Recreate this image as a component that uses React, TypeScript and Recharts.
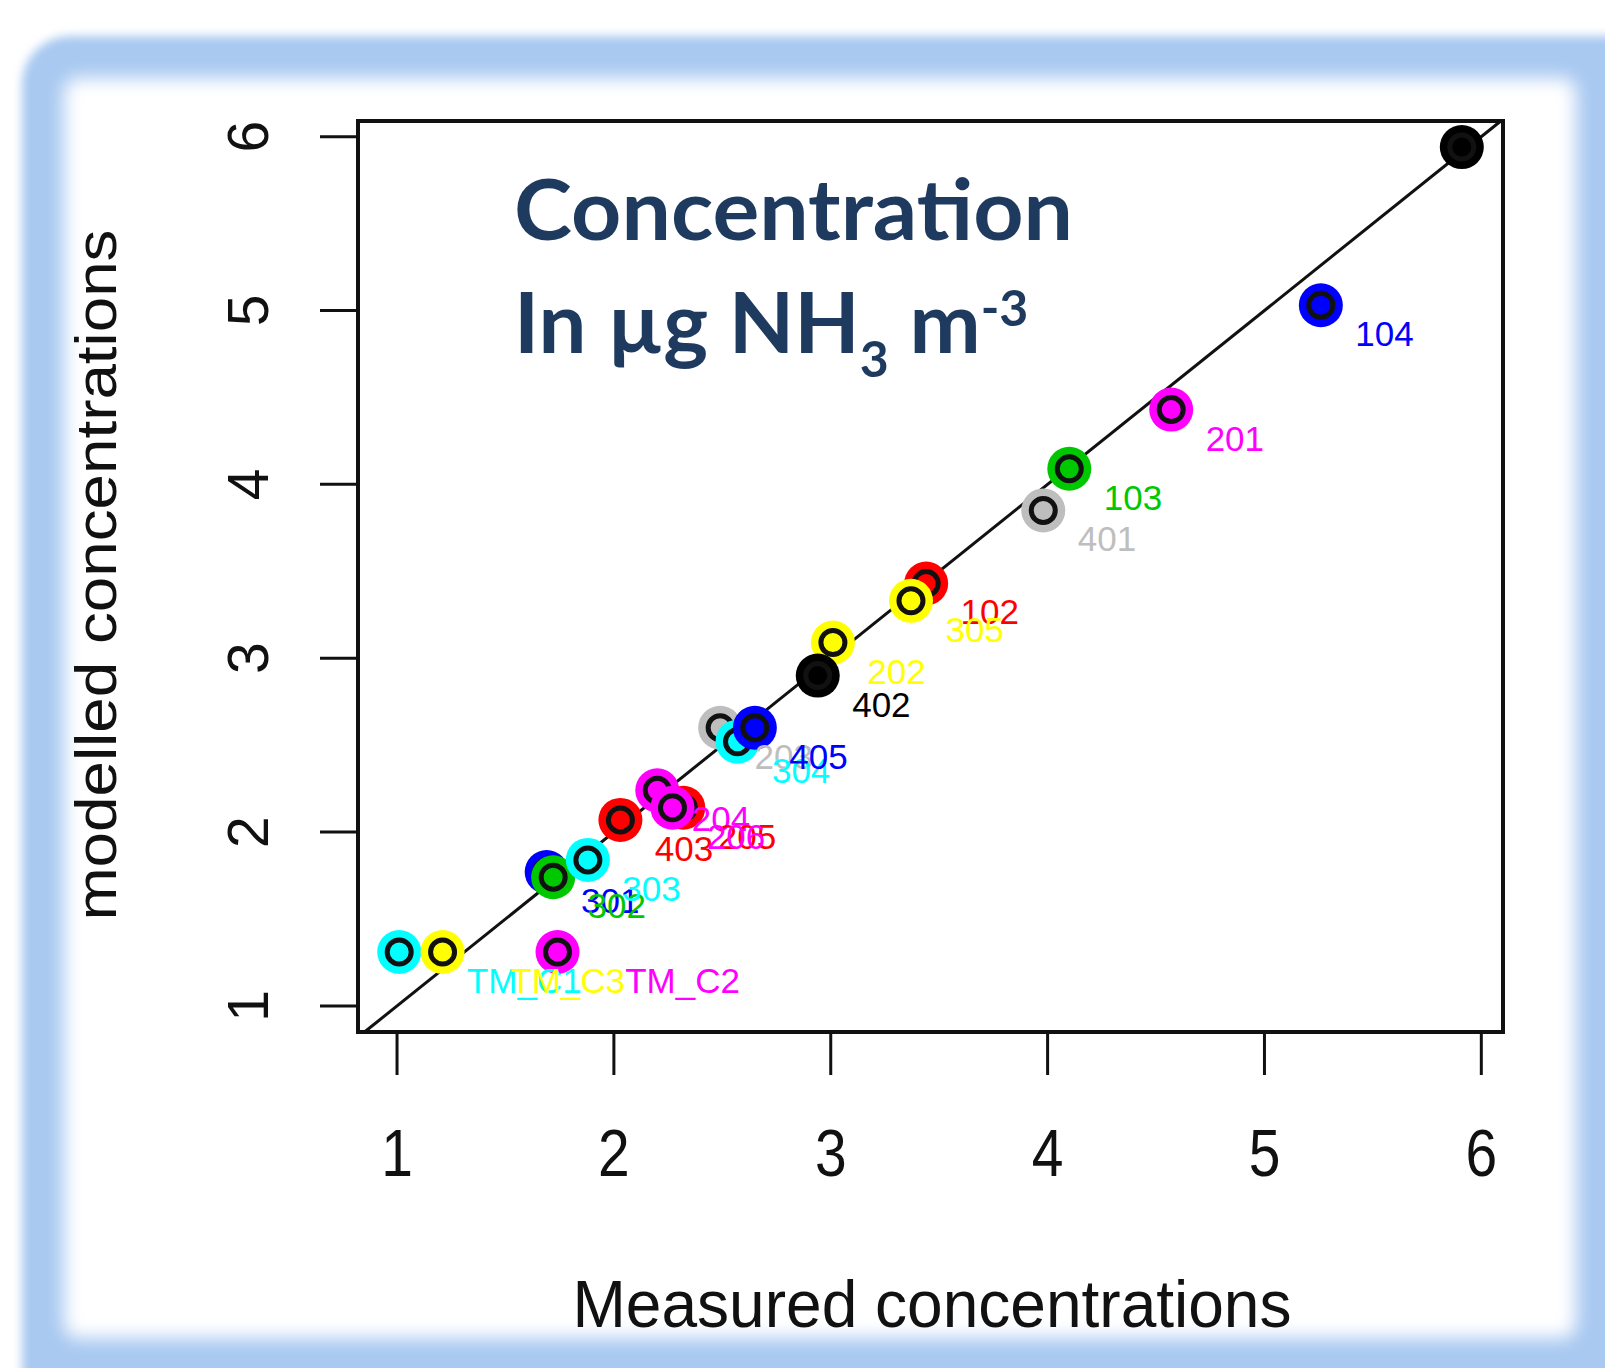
import React from 'react';
import { ScatterChart, Scatter, XAxis, YAxis, ReferenceLine, ReferenceArea } from 'recharts';

// sites, in drawing order (later ones sit on top)
const siteLabels = [
  'TM_C1', 'TM_C3', 'TM_C2', '301', '302', '303', '403', '204', '205', '206',
  '203', '304', '405', '202', '402', '102', '305', '401', '103', '201', '104', '',
];
const measured = [
  1.01, 1.21, 1.74, 1.69, 1.72, 1.88, 2.03, 2.2, 2.32, 2.27,
  2.49, 2.57, 2.65, 3.01, 2.94, 3.44, 3.37, 3.98, 4.1, 4.57, 5.26, 5.91,
];
const modelled = [
  1.31, 1.31, 1.31, 1.77, 1.74, 1.84, 2.07, 2.24, 2.14, 2.14,
  2.6, 2.52, 2.6, 3.09, 2.9, 3.43, 3.33, 3.85, 4.09, 4.43, 5.03, 5.94,
];
const siteColours = [
  '#00ffff', '#ffff00', '#ff00ff', '#0000ff', '#00c800', '#00ffff', '#ff0000', '#ff00ff', '#ff0000', '#ff00ff',
  '#bebebe', '#00ffff', '#0000ff', '#ffff00', '#000000', '#ff0000', '#ffff00', '#bebebe', '#00c800', '#ff00ff', '#0000ff', '#000000',
];
const axisTicks = [1, 2, 3, 4, 5, 6];

const points = siteLabels.map((label, i) => ({
  x: measured[i],
  y: modelled[i],
  label,
  colour: siteColours[i],
}));

const AXIS_FONT = '"Liberation Sans", Arial, sans-serif';
const LABEL_SIZE = 35;

const charWidth: Record<string, number> = { M: 0.833, T: 0.611, C: 0.722, _: 0.556 };
const textWidth = (s: string) =>
  s.split('').reduce((w, c) => w + (charWidth[c] ?? 0.556), 0) * LABEL_SIZE;

const Marker = (p: any) => (
  <g>
    <circle cx={p.cx} cy={p.cy} r={22} fill={p.payload.colour} />
    <circle cx={p.cx} cy={p.cy} r={12} fill="none" stroke="#111" strokeWidth={5} />
  </g>
);

const SiteLabel = (p: any) => {
  const label: string = p.payload.label;
  if (!label) return <g />;
  return (
    <text
      x={p.cx + 0.59 * textWidth(label)}
      y={p.cy + 41}
      fill={p.payload.colour}
      fontSize={LABEL_SIZE}
      fontFamily={AXIS_FONT}
    >
      {label}
    </text>
  );
};

const XTick = (p: any) => (
  <g transform={`translate(${p.x},${p.y + 101}) scale(0.85,1)`}>
    <text textAnchor="middle" fontSize={67} fontFamily={AXIS_FONT} fill="#111">
      {p.payload.value}
    </text>
  </g>
);

const YTick = (p: any) => (
  <text
    transform={`translate(${p.x - 52},${p.y}) rotate(-90)`}
    textAnchor="middle"
    fontSize={57}
    fontFamily={AXIS_FONT}
    fill="#111"
  >
    {p.payload.value}
  </text>
);

export default function App() {
  return (
    <div
      style={{
        position: 'absolute',
        left: 0,
        top: 0,
        width: 1605,
        height: 1368,
        overflow: 'hidden',
        background: '#fff',
      }}
    >
      {/* rounded blue frame */}
      <div
        style={{
          position: 'absolute',
          left: 22,
          top: 36,
          width: 1660,
          height: 1420,
          borderRadius: 48,
          background: '#a9c9f1',
          filter: 'blur(5px)',
        }}
      />
      <div
        style={{
          position: 'absolute',
          left: 64,
          top: 78,
          width: 1512,
          height: 1260,
          borderRadius: 14,
          background: '#fff',
          filter: 'blur(9px)',
        }}
      />
      <div style={{ position: 'absolute', left: 0, top: 0 }}>
        <ScatterChart
          width={1605}
          height={1368}
          margin={{ top: 121, right: 102, bottom: 236, left: 158 }}
        >
          <XAxis
            type="number"
            dataKey="x"
            domain={[0.82, 6.1]}
            ticks={axisTicks}
            allowDataOverflow
            height={100}
            axisLine={false}
            tickLine={{ stroke: '#111', strokeWidth: 3 }}
            tickSize={43}
            tickMargin={0}
            tick={<XTick />}
          />
          <YAxis
            type="number"
            dataKey="y"
            domain={[0.85, 6.09]}
            ticks={axisTicks}
            allowDataOverflow
            width={200}
            axisLine={false}
            tickLine={{ stroke: '#111', strokeWidth: 3 }}
            tickSize={38}
            tickMargin={0}
            tick={<YTick />}
          />
          <Scatter data={points} shape={Marker} isAnimationActive={false} />
          <ReferenceLine
            segment={[
              { x: 0.85, y: 0.85 },
              { x: 6.09, y: 6.09 },
            ]}
            stroke="#111"
            strokeWidth={3}
          />
          <Scatter data={points} shape={SiteLabel} isAnimationActive={false} />
          <ReferenceArea
            x1={0.82}
            x2={6.1}
            y1={0.85}
            y2={6.09}
            fill="none"
            fillOpacity={0}
            stroke="#111"
            strokeWidth={4}
          />
        </ScatterChart>
      </div>
      <svg
        width={1605}
        height={1368}
        style={{ position: 'absolute', left: 0, top: 0, pointerEvents: 'none' }}
      >
        <text
          x={514}
          y={240}
          fontSize={85}
          fontWeight={700}
          fontFamily="Lato, 'Open Sans', sans-serif"
          fill="#1f3a5f"
          textLength={559}
          lengthAdjust="spacingAndGlyphs"
        >
          Concentration
        </text>
        <text
          x={514}
          y={353}
          fontSize={85}
          fontWeight={700}
          fontFamily="Lato, 'Open Sans', sans-serif"
          fill="#1f3a5f"
        >
          In µg NH
          <tspan fontSize={50} dy={24}>3</tspan>
          <tspan dy={-24}> m</tspan>
          <tspan fontSize={50} dy={-27}>-3</tspan>
        </text>
        <text
          x={932}
          y={1327}
          textAnchor="middle"
          fontSize={67}
          fontFamily={AXIS_FONT}
          fill="#111"
          textLength={719}
          lengthAdjust="spacingAndGlyphs"
        >
          Measured concentrations
        </text>
        <text
          transform="translate(116,575) rotate(-90)"
          textAnchor="middle"
          fontSize={57}
          fontFamily={AXIS_FONT}
          fill="#111"
          textLength={691}
          lengthAdjust="spacingAndGlyphs"
        >
          modelled concentrations
        </text>
      </svg>
    </div>
  );
}
